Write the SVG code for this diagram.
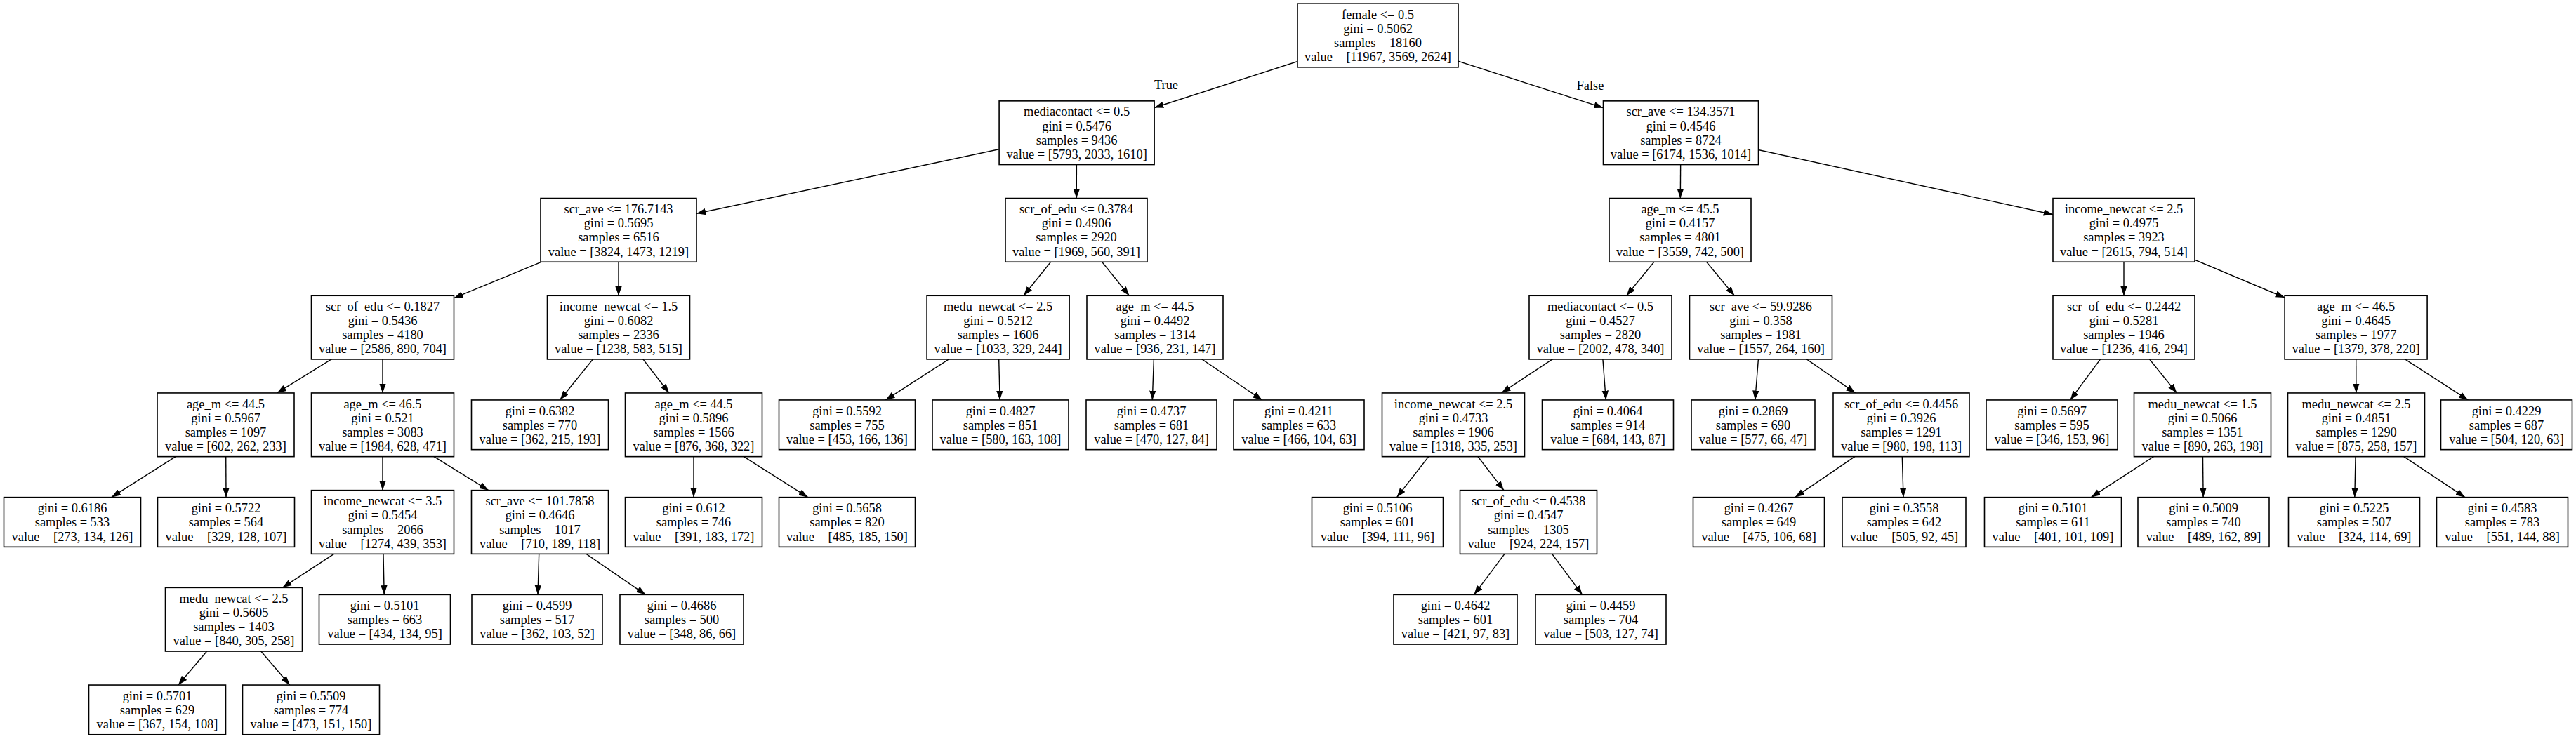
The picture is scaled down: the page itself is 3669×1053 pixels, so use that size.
<svg xmlns="http://www.w3.org/2000/svg" width="3669" height="1053" viewBox="0 0 3669 1053">
<style>
.n rect{fill:#fff;stroke:#000;stroke-width:1.6}
text{font-family:"Liberation Serif","Times New Roman",serif;font-size:18.4px;text-anchor:middle;fill:#000}
.e line{stroke:#000;stroke-width:1.4;marker-end:url(#arr)}
</style>
<defs>
<marker id="arr" markerUnits="userSpaceOnUse" markerWidth="14" markerHeight="10" viewBox="0 -5 14 10" refX="13.3" refY="0" orient="auto"><path d="M0,-4.7 L13.3,0 L0,4.7 Z" fill="#000"/></marker>
</defs>
<rect x="0" y="0" width="3669" height="1053" fill="#fff"/>
<g id="connectors" class="e">
<line x1="1962.5" y1="50.5" x2="1644.1" y2="153.5"/>
<line x1="1962.5" y1="50.5" x2="2283.5" y2="153.7"/>
<line x1="1533.6" y1="189.2" x2="992" y2="304.3"/>
<line x1="1533.6" y1="189.2" x2="1533.2" y2="282.55"/>
<line x1="2394" y1="189.2" x2="2393.3" y2="282.55"/>
<line x1="2394" y1="189.2" x2="2924" y2="305.7"/>
<line x1="881" y1="327.9" x2="646.5" y2="424.7"/>
<line x1="881" y1="327.9" x2="881" y2="421.25"/>
<line x1="1533" y1="327.9" x2="1458" y2="421.25"/>
<line x1="1533" y1="327.9" x2="1608.4" y2="421.25"/>
<line x1="2393" y1="327.9" x2="2316.6" y2="421.25"/>
<line x1="2393" y1="327.9" x2="2470.4" y2="421.25"/>
<line x1="3025" y1="327.9" x2="3025" y2="421.25"/>
<line x1="3025" y1="327.9" x2="3254.1" y2="424"/>
<line x1="545" y1="466.6" x2="394.6" y2="559.95"/>
<line x1="545" y1="466.6" x2="545" y2="559.95"/>
<line x1="881" y1="466.6" x2="797.5" y2="569.95"/>
<line x1="881" y1="466.6" x2="953" y2="559.95"/>
<line x1="1421.6" y1="466.6" x2="1261.3" y2="569.95"/>
<line x1="1421.6" y1="466.6" x2="1424.1" y2="569.95"/>
<line x1="1645" y1="466.6" x2="1641.3" y2="569.95"/>
<line x1="1645" y1="466.6" x2="1797.7" y2="569.95"/>
<line x1="2279.5" y1="466.6" x2="2138.5" y2="559.95"/>
<line x1="2279.5" y1="466.6" x2="2287.3" y2="569.95"/>
<line x1="2508" y1="466.6" x2="2499.8" y2="569.95"/>
<line x1="2508" y1="466.6" x2="2642.6" y2="559.95"/>
<line x1="3025" y1="466.6" x2="2948.6" y2="569.95"/>
<line x1="3025" y1="466.6" x2="3100.4" y2="559.95"/>
<line x1="3355.6" y1="466.6" x2="3355.9" y2="559.95"/>
<line x1="3355.6" y1="466.6" x2="3515.3" y2="569.95"/>
<line x1="321.5" y1="605.3" x2="158.7" y2="708.65"/>
<line x1="321.5" y1="605.3" x2="322" y2="708.65"/>
<line x1="545" y1="605.3" x2="545" y2="698.65"/>
<line x1="545" y1="605.3" x2="695.8" y2="698.65"/>
<line x1="988" y1="605.3" x2="988" y2="708.65"/>
<line x1="988" y1="605.3" x2="1150.8" y2="708.65"/>
<line x1="2070" y1="605.3" x2="1989.5" y2="708.65"/>
<line x1="2070" y1="605.3" x2="2142" y2="698.65"/>
<line x1="2708" y1="605.3" x2="2556.7" y2="708.65"/>
<line x1="2708" y1="605.3" x2="2711" y2="708.65"/>
<line x1="3137" y1="605.3" x2="2978.3" y2="708.65"/>
<line x1="3137" y1="605.3" x2="3138.1" y2="708.65"/>
<line x1="3356" y1="605.3" x2="3353.8" y2="708.65"/>
<line x1="3356" y1="605.3" x2="3511" y2="708.65"/>
<line x1="545" y1="744" x2="402.3" y2="837.35"/>
<line x1="545" y1="744" x2="547.2" y2="847.35"/>
<line x1="769" y1="744" x2="766" y2="847.35"/>
<line x1="769" y1="744" x2="919.5" y2="847.35"/>
<line x1="2177" y1="744" x2="2099.5" y2="847.35"/>
<line x1="2177" y1="744" x2="2253.7" y2="847.35"/>
<line x1="333" y1="882.7" x2="253.9" y2="976.05"/>
<line x1="333" y1="882.7" x2="412.8" y2="976.05"/>
<text x="1661" y="127">True</text>
<text x="2265" y="127.7">False</text>
</g>
<g id="n0" class="n" transform="translate(1962.5,50.5)"><rect x="-114.5" y="-45.35" width="229" height="90.7"/><text y="-23.8">female &lt;= 0.5</text><text y="-3.6">gini = 0.5062</text><text y="16.6">samples = 18160</text><text y="36.8">value = [11967, 3569, 2624]</text></g>
<g id="n1" class="n" transform="translate(1533.6,189.2)"><rect x="-110.5" y="-45.35" width="221" height="90.7"/><text y="-23.8">mediacontact &lt;= 0.5</text><text y="-3.6">gini = 0.5476</text><text y="16.6">samples = 9436</text><text y="36.8">value = [5793, 2033, 1610]</text></g>
<g id="n2" class="n" transform="translate(2394,189.2)"><rect x="-110.5" y="-45.35" width="221" height="90.7"/><text y="-23.8">scr_ave &lt;= 134.3571</text><text y="-3.6">gini = 0.4546</text><text y="16.6">samples = 8724</text><text y="36.8">value = [6174, 1536, 1014]</text></g>
<g id="n3" class="n" transform="translate(881,327.9)"><rect x="-111" y="-45.35" width="222" height="90.7"/><text y="-23.8">scr_ave &lt;= 176.7143</text><text y="-3.6">gini = 0.5695</text><text y="16.6">samples = 6516</text><text y="36.8">value = [3824, 1473, 1219]</text></g>
<g id="n4" class="n" transform="translate(1533,327.9)"><rect x="-101" y="-45.35" width="202" height="90.7"/><text y="-23.8">scr_of_edu &lt;= 0.3784</text><text y="-3.6">gini = 0.4906</text><text y="16.6">samples = 2920</text><text y="36.8">value = [1969, 560, 391]</text></g>
<g id="n5" class="n" transform="translate(2393,327.9)"><rect x="-101" y="-45.35" width="202" height="90.7"/><text y="-23.8">age_m &lt;= 45.5</text><text y="-3.6">gini = 0.4157</text><text y="16.6">samples = 4801</text><text y="36.8">value = [3559, 742, 500]</text></g>
<g id="n6" class="n" transform="translate(3025,327.9)"><rect x="-101" y="-45.35" width="202" height="90.7"/><text y="-23.8">income_newcat &lt;= 2.5</text><text y="-3.6">gini = 0.4975</text><text y="16.6">samples = 3923</text><text y="36.8">value = [2615, 794, 514]</text></g>
<g id="n7" class="n" transform="translate(545,466.6)"><rect x="-101.5" y="-45.35" width="203" height="90.7"/><text y="-23.8">scr_of_edu &lt;= 0.1827</text><text y="-3.6">gini = 0.5436</text><text y="16.6">samples = 4180</text><text y="36.8">value = [2586, 890, 704]</text></g>
<g id="n8" class="n" transform="translate(881,466.6)"><rect x="-101.5" y="-45.35" width="203" height="90.7"/><text y="-23.8">income_newcat &lt;= 1.5</text><text y="-3.6">gini = 0.6082</text><text y="16.6">samples = 2336</text><text y="36.8">value = [1238, 583, 515]</text></g>
<g id="n9" class="n" transform="translate(1421.6,466.6)"><rect x="-101.5" y="-45.35" width="203" height="90.7"/><text y="-23.8">medu_newcat &lt;= 2.5</text><text y="-3.6">gini = 0.5212</text><text y="16.6">samples = 1606</text><text y="36.8">value = [1033, 329, 244]</text></g>
<g id="n10" class="n" transform="translate(1645,466.6)"><rect x="-97" y="-45.35" width="194" height="90.7"/><text y="-23.8">age_m &lt;= 44.5</text><text y="-3.6">gini = 0.4492</text><text y="16.6">samples = 1314</text><text y="36.8">value = [936, 231, 147]</text></g>
<g id="n11" class="n" transform="translate(2279.5,466.6)"><rect x="-101.5" y="-45.35" width="203" height="90.7"/><text y="-23.8">mediacontact &lt;= 0.5</text><text y="-3.6">gini = 0.4527</text><text y="16.6">samples = 2820</text><text y="36.8">value = [2002, 478, 340]</text></g>
<g id="n12" class="n" transform="translate(2508,466.6)"><rect x="-101.5" y="-45.35" width="203" height="90.7"/><text y="-23.8">scr_ave &lt;= 59.9286</text><text y="-3.6">gini = 0.358</text><text y="16.6">samples = 1981</text><text y="36.8">value = [1557, 264, 160]</text></g>
<g id="n13" class="n" transform="translate(3025,466.6)"><rect x="-101" y="-45.35" width="202" height="90.7"/><text y="-23.8">scr_of_edu &lt;= 0.2442</text><text y="-3.6">gini = 0.5281</text><text y="16.6">samples = 1946</text><text y="36.8">value = [1236, 416, 294]</text></g>
<g id="n14" class="n" transform="translate(3355.6,466.6)"><rect x="-101.5" y="-45.35" width="203" height="90.7"/><text y="-23.8">age_m &lt;= 46.5</text><text y="-3.6">gini = 0.4645</text><text y="16.6">samples = 1977</text><text y="36.8">value = [1379, 378, 220]</text></g>
<g id="n15" class="n" transform="translate(321.5,605.3)"><rect x="-97.5" y="-45.35" width="195" height="90.7"/><text y="-23.8">age_m &lt;= 44.5</text><text y="-3.6">gini = 0.5967</text><text y="16.6">samples = 1097</text><text y="36.8">value = [602, 262, 233]</text></g>
<g id="n16" class="n" transform="translate(545,605.3)"><rect x="-101.5" y="-45.35" width="203" height="90.7"/><text y="-23.8">age_m &lt;= 46.5</text><text y="-3.6">gini = 0.521</text><text y="16.6">samples = 3083</text><text y="36.8">value = [1984, 628, 471]</text></g>
<g id="n17" class="n" transform="translate(769,605.3)"><rect x="-97.5" y="-35.35" width="195" height="70.7"/><text y="-13.8">gini = 0.6382</text><text y="6.4">samples = 770</text><text y="26.6">value = [362, 215, 193]</text></g>
<g id="n18" class="n" transform="translate(988,605.3)"><rect x="-97.5" y="-45.35" width="195" height="90.7"/><text y="-23.8">age_m &lt;= 44.5</text><text y="-3.6">gini = 0.5896</text><text y="16.6">samples = 1566</text><text y="36.8">value = [876, 368, 322]</text></g>
<g id="n19" class="n" transform="translate(1206.5,605.3)"><rect x="-97" y="-35.35" width="194" height="70.7"/><text y="-13.8">gini = 0.5592</text><text y="6.4">samples = 755</text><text y="26.6">value = [453, 166, 136]</text></g>
<g id="n20" class="n" transform="translate(1425,605.3)"><rect x="-97" y="-35.35" width="194" height="70.7"/><text y="-13.8">gini = 0.4827</text><text y="6.4">samples = 851</text><text y="26.6">value = [580, 163, 108]</text></g>
<g id="n21" class="n" transform="translate(1640,605.3)"><rect x="-93" y="-35.35" width="186" height="70.7"/><text y="-13.8">gini = 0.4737</text><text y="6.4">samples = 681</text><text y="26.6">value = [470, 127, 84]</text></g>
<g id="n22" class="n" transform="translate(1850,605.3)"><rect x="-93" y="-35.35" width="186" height="70.7"/><text y="-13.8">gini = 0.4211</text><text y="6.4">samples = 633</text><text y="26.6">value = [466, 104, 63]</text></g>
<g id="n23" class="n" transform="translate(2070,605.3)"><rect x="-101.5" y="-45.35" width="203" height="90.7"/><text y="-23.8">income_newcat &lt;= 2.5</text><text y="-3.6">gini = 0.4733</text><text y="16.6">samples = 1906</text><text y="36.8">value = [1318, 335, 253]</text></g>
<g id="n24" class="n" transform="translate(2290,605.3)"><rect x="-93.5" y="-35.35" width="187" height="70.7"/><text y="-13.8">gini = 0.4064</text><text y="6.4">samples = 914</text><text y="26.6">value = [684, 143, 87]</text></g>
<g id="n25" class="n" transform="translate(2497,605.3)"><rect x="-88" y="-35.35" width="176" height="70.7"/><text y="-13.8">gini = 0.2869</text><text y="6.4">samples = 690</text><text y="26.6">value = [577, 66, 47]</text></g>
<g id="n26" class="n" transform="translate(2708,605.3)"><rect x="-97" y="-45.35" width="194" height="90.7"/><text y="-23.8">scr_of_edu &lt;= 0.4456</text><text y="-3.6">gini = 0.3926</text><text y="16.6">samples = 1291</text><text y="36.8">value = [980, 198, 113]</text></g>
<g id="n27" class="n" transform="translate(2922.5,605.3)"><rect x="-93.5" y="-35.35" width="187" height="70.7"/><text y="-13.8">gini = 0.5697</text><text y="6.4">samples = 595</text><text y="26.6">value = [346, 153, 96]</text></g>
<g id="n28" class="n" transform="translate(3137,605.3)"><rect x="-97.5" y="-45.35" width="195" height="90.7"/><text y="-23.8">medu_newcat &lt;= 1.5</text><text y="-3.6">gini = 0.5066</text><text y="16.6">samples = 1351</text><text y="36.8">value = [890, 263, 198]</text></g>
<g id="n29" class="n" transform="translate(3356,605.3)"><rect x="-97.5" y="-45.35" width="195" height="90.7"/><text y="-23.8">medu_newcat &lt;= 2.5</text><text y="-3.6">gini = 0.4851</text><text y="16.6">samples = 1290</text><text y="36.8">value = [875, 258, 157]</text></g>
<g id="n30" class="n" transform="translate(3570,605.3)"><rect x="-93.5" y="-35.35" width="187" height="70.7"/><text y="-13.8">gini = 0.4229</text><text y="6.4">samples = 687</text><text y="26.6">value = [504, 120, 63]</text></g>
<g id="n31" class="n" transform="translate(103,744)"><rect x="-97.5" y="-35.35" width="195" height="70.7"/><text y="-13.8">gini = 0.6186</text><text y="6.4">samples = 533</text><text y="26.6">value = [273, 134, 126]</text></g>
<g id="n32" class="n" transform="translate(322,744)"><rect x="-97.5" y="-35.35" width="195" height="70.7"/><text y="-13.8">gini = 0.5722</text><text y="6.4">samples = 564</text><text y="26.6">value = [329, 128, 107]</text></g>
<g id="n33" class="n" transform="translate(545,744)"><rect x="-101.5" y="-45.35" width="203" height="90.7"/><text y="-23.8">income_newcat &lt;= 3.5</text><text y="-3.6">gini = 0.5454</text><text y="16.6">samples = 2066</text><text y="36.8">value = [1274, 439, 353]</text></g>
<g id="n34" class="n" transform="translate(769,744)"><rect x="-97.5" y="-45.35" width="195" height="90.7"/><text y="-23.8">scr_ave &lt;= 101.7858</text><text y="-3.6">gini = 0.4646</text><text y="16.6">samples = 1017</text><text y="36.8">value = [710, 189, 118]</text></g>
<g id="n35" class="n" transform="translate(988,744)"><rect x="-97.5" y="-35.35" width="195" height="70.7"/><text y="-13.8">gini = 0.612</text><text y="6.4">samples = 746</text><text y="26.6">value = [391, 183, 172]</text></g>
<g id="n36" class="n" transform="translate(1206.5,744)"><rect x="-97" y="-35.35" width="194" height="70.7"/><text y="-13.8">gini = 0.5658</text><text y="6.4">samples = 820</text><text y="26.6">value = [485, 185, 150]</text></g>
<g id="n37" class="n" transform="translate(1962,744)"><rect x="-93.5" y="-35.35" width="187" height="70.7"/><text y="-13.8">gini = 0.5106</text><text y="6.4">samples = 601</text><text y="26.6">value = [394, 111, 96]</text></g>
<g id="n38" class="n" transform="translate(2177,744)"><rect x="-97.5" y="-45.35" width="195" height="90.7"/><text y="-23.8">scr_of_edu &lt;= 0.4538</text><text y="-3.6">gini = 0.4547</text><text y="16.6">samples = 1305</text><text y="36.8">value = [924, 224, 157]</text></g>
<g id="n39" class="n" transform="translate(2505,744)"><rect x="-93.5" y="-35.35" width="187" height="70.7"/><text y="-13.8">gini = 0.4267</text><text y="6.4">samples = 649</text><text y="26.6">value = [475, 106, 68]</text></g>
<g id="n40" class="n" transform="translate(2712,744)"><rect x="-88" y="-35.35" width="176" height="70.7"/><text y="-13.8">gini = 0.3558</text><text y="6.4">samples = 642</text><text y="26.6">value = [505, 92, 45]</text></g>
<g id="n41" class="n" transform="translate(2924,744)"><rect x="-97.5" y="-35.35" width="195" height="70.7"/><text y="-13.8">gini = 0.5101</text><text y="6.4">samples = 611</text><text y="26.6">value = [401, 101, 109]</text></g>
<g id="n42" class="n" transform="translate(3138.5,744)"><rect x="-93.5" y="-35.35" width="187" height="70.7"/><text y="-13.8">gini = 0.5009</text><text y="6.4">samples = 740</text><text y="26.6">value = [489, 162, 89]</text></g>
<g id="n43" class="n" transform="translate(3353,744)"><rect x="-93.5" y="-35.35" width="187" height="70.7"/><text y="-13.8">gini = 0.5225</text><text y="6.4">samples = 507</text><text y="26.6">value = [324, 114, 69]</text></g>
<g id="n44" class="n" transform="translate(3564,744)"><rect x="-93.5" y="-35.35" width="187" height="70.7"/><text y="-13.8">gini = 0.4583</text><text y="6.4">samples = 783</text><text y="26.6">value = [551, 144, 88]</text></g>
<g id="n45" class="n" transform="translate(333,882.7)"><rect x="-97.5" y="-45.35" width="195" height="90.7"/><text y="-23.8">medu_newcat &lt;= 2.5</text><text y="-3.6">gini = 0.5605</text><text y="16.6">samples = 1403</text><text y="36.8">value = [840, 305, 258]</text></g>
<g id="n46" class="n" transform="translate(548,882.7)"><rect x="-93.5" y="-35.35" width="187" height="70.7"/><text y="-13.8">gini = 0.5101</text><text y="6.4">samples = 663</text><text y="26.6">value = [434, 134, 95]</text></g>
<g id="n47" class="n" transform="translate(765,882.7)"><rect x="-93" y="-35.35" width="186" height="70.7"/><text y="-13.8">gini = 0.4599</text><text y="6.4">samples = 517</text><text y="26.6">value = [362, 103, 52]</text></g>
<g id="n48" class="n" transform="translate(971,882.7)"><rect x="-88" y="-35.35" width="176" height="70.7"/><text y="-13.8">gini = 0.4686</text><text y="6.4">samples = 500</text><text y="26.6">value = [348, 86, 66]</text></g>
<g id="n49" class="n" transform="translate(2073,882.7)"><rect x="-88" y="-35.35" width="176" height="70.7"/><text y="-13.8">gini = 0.4642</text><text y="6.4">samples = 601</text><text y="26.6">value = [421, 97, 83]</text></g>
<g id="n50" class="n" transform="translate(2280,882.7)"><rect x="-93" y="-35.35" width="186" height="70.7"/><text y="-13.8">gini = 0.4459</text><text y="6.4">samples = 704</text><text y="26.6">value = [503, 127, 74]</text></g>
<g id="n51" class="n" transform="translate(224,1011.4)"><rect x="-97.5" y="-35.35" width="195" height="70.7"/><text y="-13.8">gini = 0.5701</text><text y="6.4">samples = 629</text><text y="26.6">value = [367, 154, 108]</text></g>
<g id="n52" class="n" transform="translate(443,1011.4)"><rect x="-97.5" y="-35.35" width="195" height="70.7"/><text y="-13.8">gini = 0.5509</text><text y="6.4">samples = 774</text><text y="26.6">value = [473, 151, 150]</text></g>
</svg>
